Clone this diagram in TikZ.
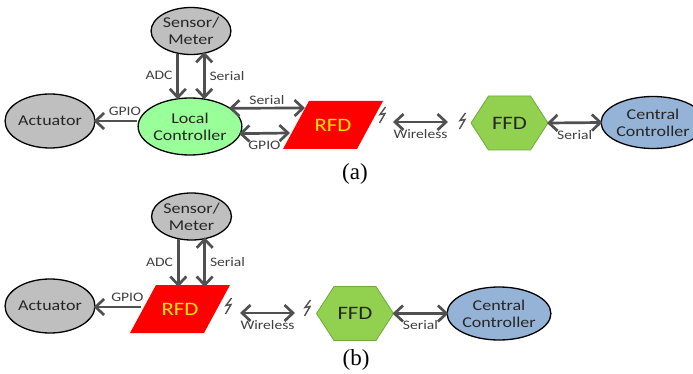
\documentclass[tikz,border=0pt]{standalone}
\usepackage{fontspec}
\setsansfont{Carlito}[FakeStretch=1.2]
\newfontfamily\capfont{Liberation Serif}
\usetikzlibrary{shapes.geometric,decorations.markings}
\definecolor{grayfill}{RGB}{191,191,191}
\definecolor{lcgreen}{RGB}{153,255,153}
\definecolor{rfdred}{RGB}{255,0,0}
\definecolor{rfdtext}{RGB}{255,230,0}
\definecolor{ffdgreen}{RGB}{146,208,80}
\definecolor{ffdborder}{RGB}{110,170,60}
\definecolor{ccblue}{RGB}{149,179,215}
\definecolor{arrc}{RGB}{80,80,80}
\definecolor{lblc}{RGB}{64,64,64}
\definecolor{txtc}{RGB}{38,38,38}
\newcommand\boltsym[1]{\draw[boltst] (#1) ++(3.5,-8) -- ++(-5.5,7.5) -- ++(5,-1) -- ++(-5.5,9.5);}
\begin{document}
\begin{tikzpicture}[x=1pt,y=-1pt,
  ell/.style={ellipse, draw=black, line width=1.3pt, inner sep=0pt, align=center,
    font=\sffamily\fontsize{15}{17}\selectfont, text=txtc},
  headend/.style={decoration={markings, mark=at position 1 with {\draw[draw=arrc, line width=2.7pt, line join=miter] (-8.5pt,8pt) -- (0pt,0pt) -- (-8.5pt,-8pt);}}},
  headstart/.style={decoration={markings, mark=at position 0 with {\draw[draw=arrc, line width=2.7pt, line join=miter] (8.5pt,8pt) -- (0pt,0pt) -- (8.5pt,-8pt);}}},
  arr/.style={draw=arrc, line width=2.7pt, postaction={headend, decorate}},
  darr/.style={draw=arrc, line width=2.7pt, postaction={headend, decorate}, postaction={headstart, decorate}},
  lbl/.style={font=\sffamily\fontsize{13}{15}\selectfont, text=lblc, inner sep=1pt},
  bigtxt/.style={font=\sffamily\fontsize{19}{21}\selectfont, inner sep=0pt},
  rfdst/.style={fill=rfdred},
  ffdst/.style={fill=ffdgreen, draw=ffdborder, line width=0.8pt},
  boltst/.style={draw=arrc, line width=1.4pt, line join=miter},
  captxt/.style={font=\capfont\fontsize{23}{25}\selectfont, inner sep=0pt}]
\useasboundingbox (0,0) rectangle (693,374);
\clip (0,0) rectangle (693,374);

% ---------------- (a) ----------------
\node[ell, fill=grayfill, minimum width=77pt, minimum height=47pt] (sA) at (191,31) {Sensor/\\Meter};
\node[ell, fill=grayfill, minimum width=74pt, minimum height=54pt] (actA) at (50,121) {Actuator};
\node[ell, fill=lcgreen, minimum width=96pt, minimum height=57pt] (lcA) at (190,126.5) {Local\\Controller};
\fill[rfdst] (283,149) -- (357,149) -- (383,101) -- (309,101) -- cycle;
\node[bigtxt, text=rfdtext] (rfdA) at (333,125) {RFD};
\coordinate (rfdAs) at (303,108);
\coordinate (rfdAg) at (288,133);
\draw[ffdst, shift={(509.5,123)}] (-38.5,0) -- (-21,-27) -- (21,-27) -- (38.5,0) -- (21,27) -- (-21,27) -- cycle;
\node[bigtxt, text=txtc] (ffdA) at (509.5,123) {FFD};
\coordinate (ffdAe) at (549,123);
\node[ell, fill=ccblue, minimum width=102pt, minimum height=52pt] (cA) at (653,122.5) {Central\\Controller};
\coordinate (wA1) at (395,122);
\coordinate (wA2) at (446,122);
\boltsym{382,115}
\boltsym{462,121}

\draw[arr] (sA.240) -- (sA.240 |- lcA.north) node[lbl, midway, left=3pt] {ADC};
\draw[darr] (sA.300) -- (sA.300 |- lcA.north) node[lbl, midway, right=3pt] {Serial};
\draw[arr] (lcA.west |- actA.east) -- (actA.east) node[lbl, pos=0.3, above=3pt] {GPIO};
\draw[darr] (lcA.24) -- (rfdAs) node[lbl, midway, above=1pt] {Serial};
\draw[darr] (lcA.-8) -- (rfdAg) node[lbl, midway, below=5pt] {GPIO};
\draw[darr] (wA1) -- (wA2) node[lbl, midway, below=5pt] {Wireless};
\draw[darr] (ffdAe) -- (cA.west) node[lbl, midway, below=5pt] {Serial};
\node[captxt] (capA) at (355,174) {(a)};

% ---------------- (b) ----------------
\node[ell, fill=grayfill, minimum width=77pt, minimum height=47pt] (sB) at (191.5,216.5) {Sensor/\\Meter};
\node[ell, fill=grayfill, minimum width=74pt, minimum height=54pt] (actB) at (50,306) {Actuator};
\fill[rfdst] (130,333) -- (204,333) -- (230,285) -- (156,285) -- cycle;
\node[bigtxt, text=rfdtext] (rfdB) at (180,309) {RFD};
\coordinate (rfdBt) at (156,285);
\coordinate (rfdBg) at (141,307);
\draw[ffdst, shift={(355,313.5)}] (-38.5,0) -- (-21,-27) -- (21,-27) -- (38.5,0) -- (21,27) -- (-21,27) -- cycle;
\node[bigtxt, text=txtc] (ffdB) at (355,313.5) {FFD};
\coordinate (ffdBe) at (394.5,313.5);
\node[ell, fill=ccblue, minimum width=102pt, minimum height=53pt] (cB) at (499,313.5) {Central\\Controller};
\coordinate (wB1) at (242,313);
\coordinate (wB2) at (293,313);
\boltsym{228,306}
\boltsym{307,308}

\draw[arr] (sB.240) -- (sB.240 |- rfdBt) node[lbl, midway, left=3pt] {ADC};
\draw[darr] (sB.300) -- (sB.300 |- rfdBt) node[lbl, midway, right=3pt] {Serial};
\draw[arr] (rfdBg) -- (rfdBg -| actB.east) node[lbl, pos=0.3, above=3pt] {GPIO};
\draw[darr] (wB1) -- (wB2) node[lbl, midway, below=5pt] {Wireless};
\draw[darr] (ffdBe) -- (cB.west) node[lbl, midway, below=5pt] {Serial};
\node[captxt] (capB) at (356,360) {(b)};
\end{tikzpicture}
\end{document}
